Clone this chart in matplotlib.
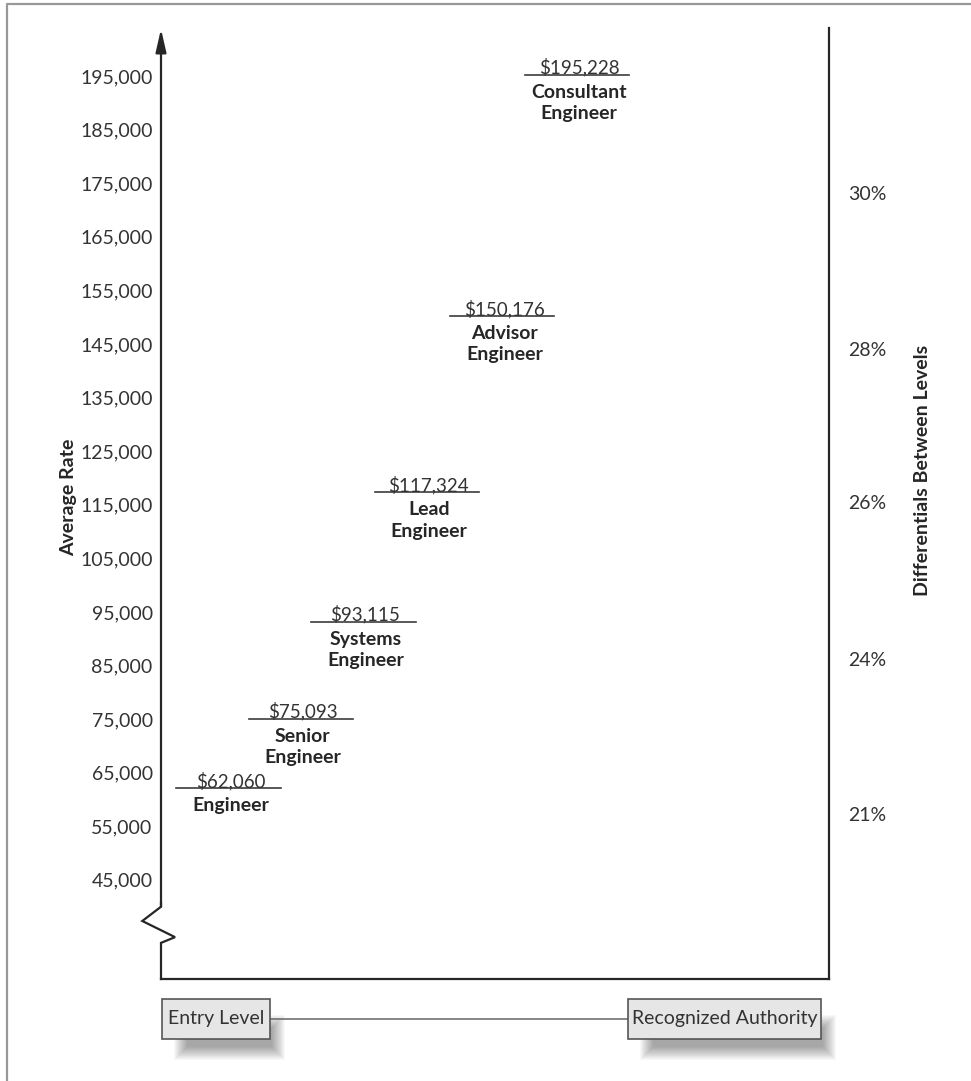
import numpy as np
import matplotlib.pyplot as plt
from matplotlib.patches import Rectangle
from matplotlib.lines import Line2D
import matplotlib.transforms as mtransforms

plt.rcParams['font.family'] = ['Lato', 'DejaVu Sans']

# Salary levels (average rate, USD)
levels = ['Engineer', 'Senior\nEngineer', 'Systems\nEngineer',
          'Lead\nEngineer', 'Advisor\nEngineer', 'Consultant\nEngineer']
salaries = [62060, 75093, 93115, 117324, 150176, 195228]
# position along the career path (0 = entry level, 100 = right edge)
career_pos = [10.4, 21.2, 30.6, 40.1, 51.4, 62.6]

# differentials between consecutive levels (right-hand scale)
diff_labels = ['21%', '24%', '26%', '28%', '30%']
diff_ticks = [56970, 85960, 115140, 143750, 172930]

y_ticks = np.arange(45000, 195001, 10000)

ink = '#262626'
fig = plt.figure(figsize=(9.71, 10.81), dpi=100)
ax = fig.add_axes([161 / 971, 1 - 979 / 1081, 668 / 971, 951 / 1081])
ax.set_xlim(0, 100)
ax.set_ylim(26480, 203980)

# spines: bottom & right normal, left drawn by hand with break + arrow
for s in ['top', 'left']:
    ax.spines[s].set_visible(False)
for s in ['bottom', 'right']:
    ax.spines[s].set_linewidth(1.6)
    ax.spines[s].set_color(ink)
ax.set_xticks([])
ax.set_yticks(y_ticks)
ax.set_yticklabels([f'{v:,}' for v in y_ticks])
ax.tick_params(axis='y', length=0, pad=6, labelsize=14, labelcolor='#333333')

# left axis with zigzag break
zx = [0, 0, 0.021, -0.028, 0, 0]
zy = [0, 0.038, 0.044, 0.061, 0.076, 0.08]
ax.plot(zx, zy, transform=ax.transAxes, color=ink, lw=1.6, clip_on=False,
        solid_joinstyle='miter')
ax.annotate('', xy=(0, 0.999), xytext=(0, 0.076), xycoords='axes fraction',
            arrowprops=dict(arrowstyle='-|>,head_length=0.7,head_width=0.16',
                            mutation_scale=20, color=ink, lw=1.6,
                            shrinkA=0, shrinkB=0))

# salary levels
for x, s, name in zip(career_pos, salaries, levels):
    ax.plot([x - 8.1, x + 7.5], [s, s], color='#3c3c3c', lw=1.2)
    ax.annotate(f'${s:,}', (x, s), xytext=(0, 1), textcoords='offset points',
                ha='center', va='baseline', fontsize=13.5, color='#333333')
    ax.annotate(name, (x, s), xytext=(0, -6.5), textcoords='offset points',
                ha='center', va='top', fontsize=14, fontweight='bold',
                color=ink, linespacing=1.3)

# right-hand differential labels
for t, lab in zip(diff_ticks, diff_labels):
    ax.text(1.028, t, lab, transform=ax.get_yaxis_transform(), ha='left',
            va='center', fontsize=14, color='#333333')

ax.text(-0.139, 0.507, 'Average Rate', transform=ax.transAxes, rotation=90,
        ha='center', va='center', fontsize=14, fontweight='bold', color=ink)
ax.text(1.14, 0.535, 'Differentials Between Levels', transform=ax.transAxes,
        rotation=90, ha='center', va='center', fontsize=14,
        fontweight='bold', color=ink)

# bottom boxes: entry level -> recognized authority
boxes = [('Entry Level', 0.0015, 0.163), ('Recognized Authority', 0.699, 0.988)]
y0, y1 = -0.063, -0.021
ax.plot([0.163, 0.699], [-0.042, -0.042], transform=ax.transAxes,
        color='#666666', lw=1.1, clip_on=False)
off = mtransforms.offset_copy(ax.transAxes, fig=fig, x=10, y=-13, units='dots')
for label, xa, xb in boxes:
    for i in range(14):
        gx = i * 1.0 / 668
        gy = i * 1.0 / 951
        ax.add_patch(Rectangle((xa - gx + 0.022, y0 - gy + 0.005),
                               xb - xa + 2 * gx - 0.034, y1 - y0 + 2 * gy - 0.022,
                               transform=off, facecolor='black',
                               edgecolor='none', alpha=0.028, clip_on=False,
                               zorder=1))
    ax.add_patch(Rectangle((xa, y0), xb - xa, y1 - y0, transform=ax.transAxes,
                           facecolor='#e6e6e6', edgecolor='#555555', lw=1.2,
                           clip_on=False, zorder=2))
    ax.text((xa + xb) / 2, (y0 + y1) / 2, label, transform=ax.transAxes,
            ha='center', va='center', fontsize=14, color='#333333', zorder=3)

# outer frame (top and left edges visible)
fig.add_artist(Line2D([6.5 / 971, 6.5 / 971, 1], [0, 1 - 3.5 / 1081, 1 - 3.5 / 1081],
                      transform=fig.transFigure, color='#999999', lw=1.6))

fig.savefig('out.png', dpi=100)
